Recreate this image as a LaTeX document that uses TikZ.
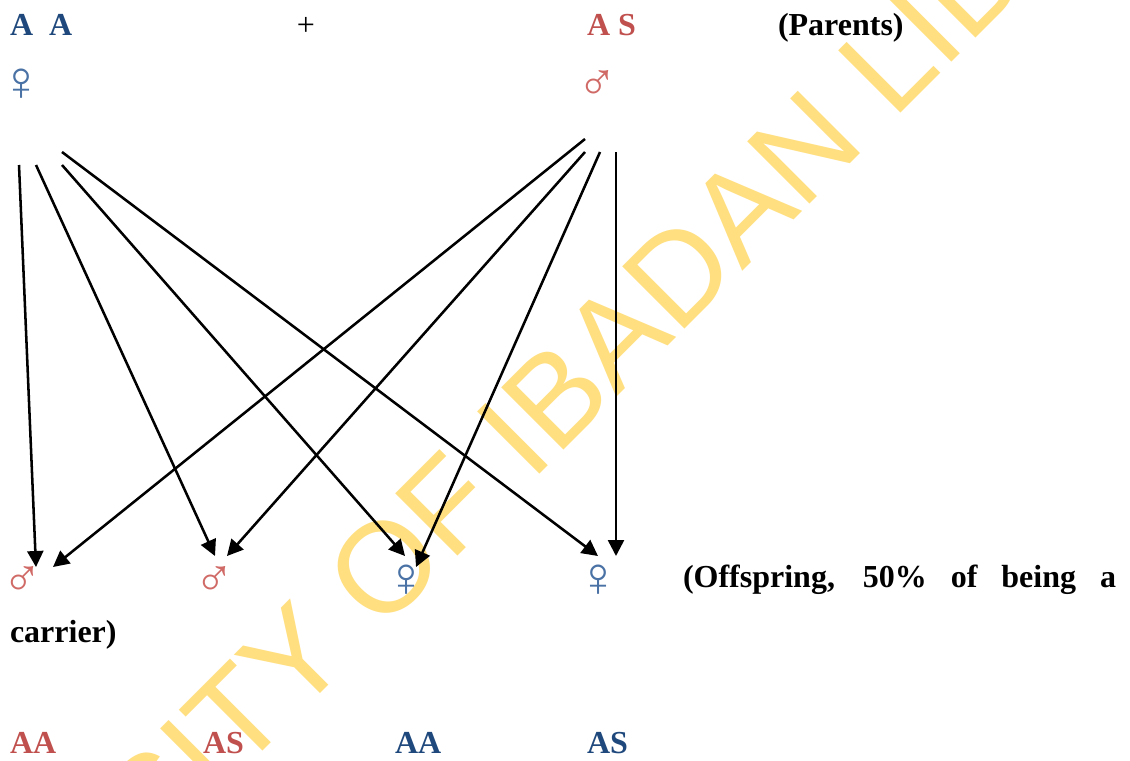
\documentclass[tikz,border=0pt]{standalone}
\usepackage{fontspec}
\usetikzlibrary{arrows.meta}
\setmainfont{Liberation Serif}
\newfontfamily\wmfont{Liberation Sans}
\definecolor{geneblue}{HTML}{1F497D}
\definecolor{genered}{HTML}{C0504D}
\definecolor{symblue}{HTML}{4A72A5}
\definecolor{symred}{HTML}{D06A66}
\definecolor{wmyellow}{HTML}{FFDF80}
\tikzset{
  x=0.75pt,y=-0.75pt,
  lab/.style={anchor=base west,inner sep=0pt,outer sep=0pt,font=\fontsize{24}{28}\selectfont\bfseries},
  blue lab/.style={lab,text=geneblue},
  red lab/.style={lab,text=genered},
  black lab/.style={lab,text=black},
  sym/.style={anchor=center,inner sep=0pt,outer sep=0pt},
  venus/.style={sym,text=symblue,font=\fontsize{42}{44}\selectfont},
  mars/.style={sym,text=symred,font=\fontsize{40}{44}\selectfont},
  link/.style={draw=black,line width=1.9pt,-{Triangle[length=12pt,width=12pt]}},
  watermark/.style={anchor=base west,inner sep=0pt,outer sep=0pt,rotate=45,text=wmyellow,font=\wmfont\fontsize{96}{100}\selectfont}
}
\begin{document}
\begin{tikzpicture}
\useasboundingbox (0,0) rectangle (1130,760);
\clip (0,0) rectangle (1130,760);
\fill[white] (0,0) rectangle (1130,760);
% parents
\node[blue lab] (pa1) at (10,35) {A};
\node[blue lab] (pa2) at (49,35) {A};
\node[anchor=base,inner sep=0pt,font=\fontsize{24}{28}\selectfont] (plus) at (306,35) {+};
\node[red lab] (pb) at (587,35) {A S};
\node[black lab] (parents) at (778,35) {(Parents)};
\node[venus] (mother) at (22,84.5) {♀};
\node[mars] (father) at (597.5,85) {♂};
% offspring symbols
\node[mars] (c1) at (22.5,581.5) {♂};
\node[mars] (c2) at (214,581.5) {♂};
\node[venus] (c3) at (406.5,581) {♀};
\node[venus] (c4) at (598.5,581) {♀};
\node[black lab] (off) at (683,587) {\makebox[324.75pt][s]{(Offspring, 50\% of being a}};
\node[black lab] (carrier) at (10,642) {carrier)};
% genotypes
\node[red lab] (g1) at (10,753) {AA};
\node[red lab] (g2) at (203,753) {AS};
\node[blue lab] (g3) at (395,753) {AA};
\node[blue lab] (g4) at (587,753) {AS};
% connector ends
\coordinate (m1) at (19,165);
\coordinate (m2) at (36,165);
\coordinate (m3) at (62,165);
\coordinate (m4) at (62,152);
\coordinate (f1) at (585,139);
\coordinate (f2) at (585,152);
\coordinate (f3) at (600,152);
\coordinate (f4) at (616,152);
\coordinate (t1a) at (36,567);
\coordinate (t1b) at (53,567);
\coordinate (t2a) at (215,556);
\coordinate (t2b) at (227,556);
\coordinate (t3a) at (405,556);
\coordinate (t3b) at (416,567);
\coordinate (t4a) at (598,556);
\coordinate (t4b) at (616,556);
\draw[link] (m1) -- (t1a);
\draw[link] (m2) -- (t2a);
\draw[link] (m3) -- (t3a);
\draw[link] (m4) -- (t4a);
\draw[link] (f1) -- (t1b);
\draw[link] (f2) -- (t2b);
\draw[link] (f3) -- (t3b);
\draw[link] (f4) -- (t4b);
% watermark
\begin{scope}[blend mode=multiply]
\node[watermark] (wm) at (154,860) {SITY OF IBADAN LIB};
\end{scope}
\end{tikzpicture}
\end{document}
